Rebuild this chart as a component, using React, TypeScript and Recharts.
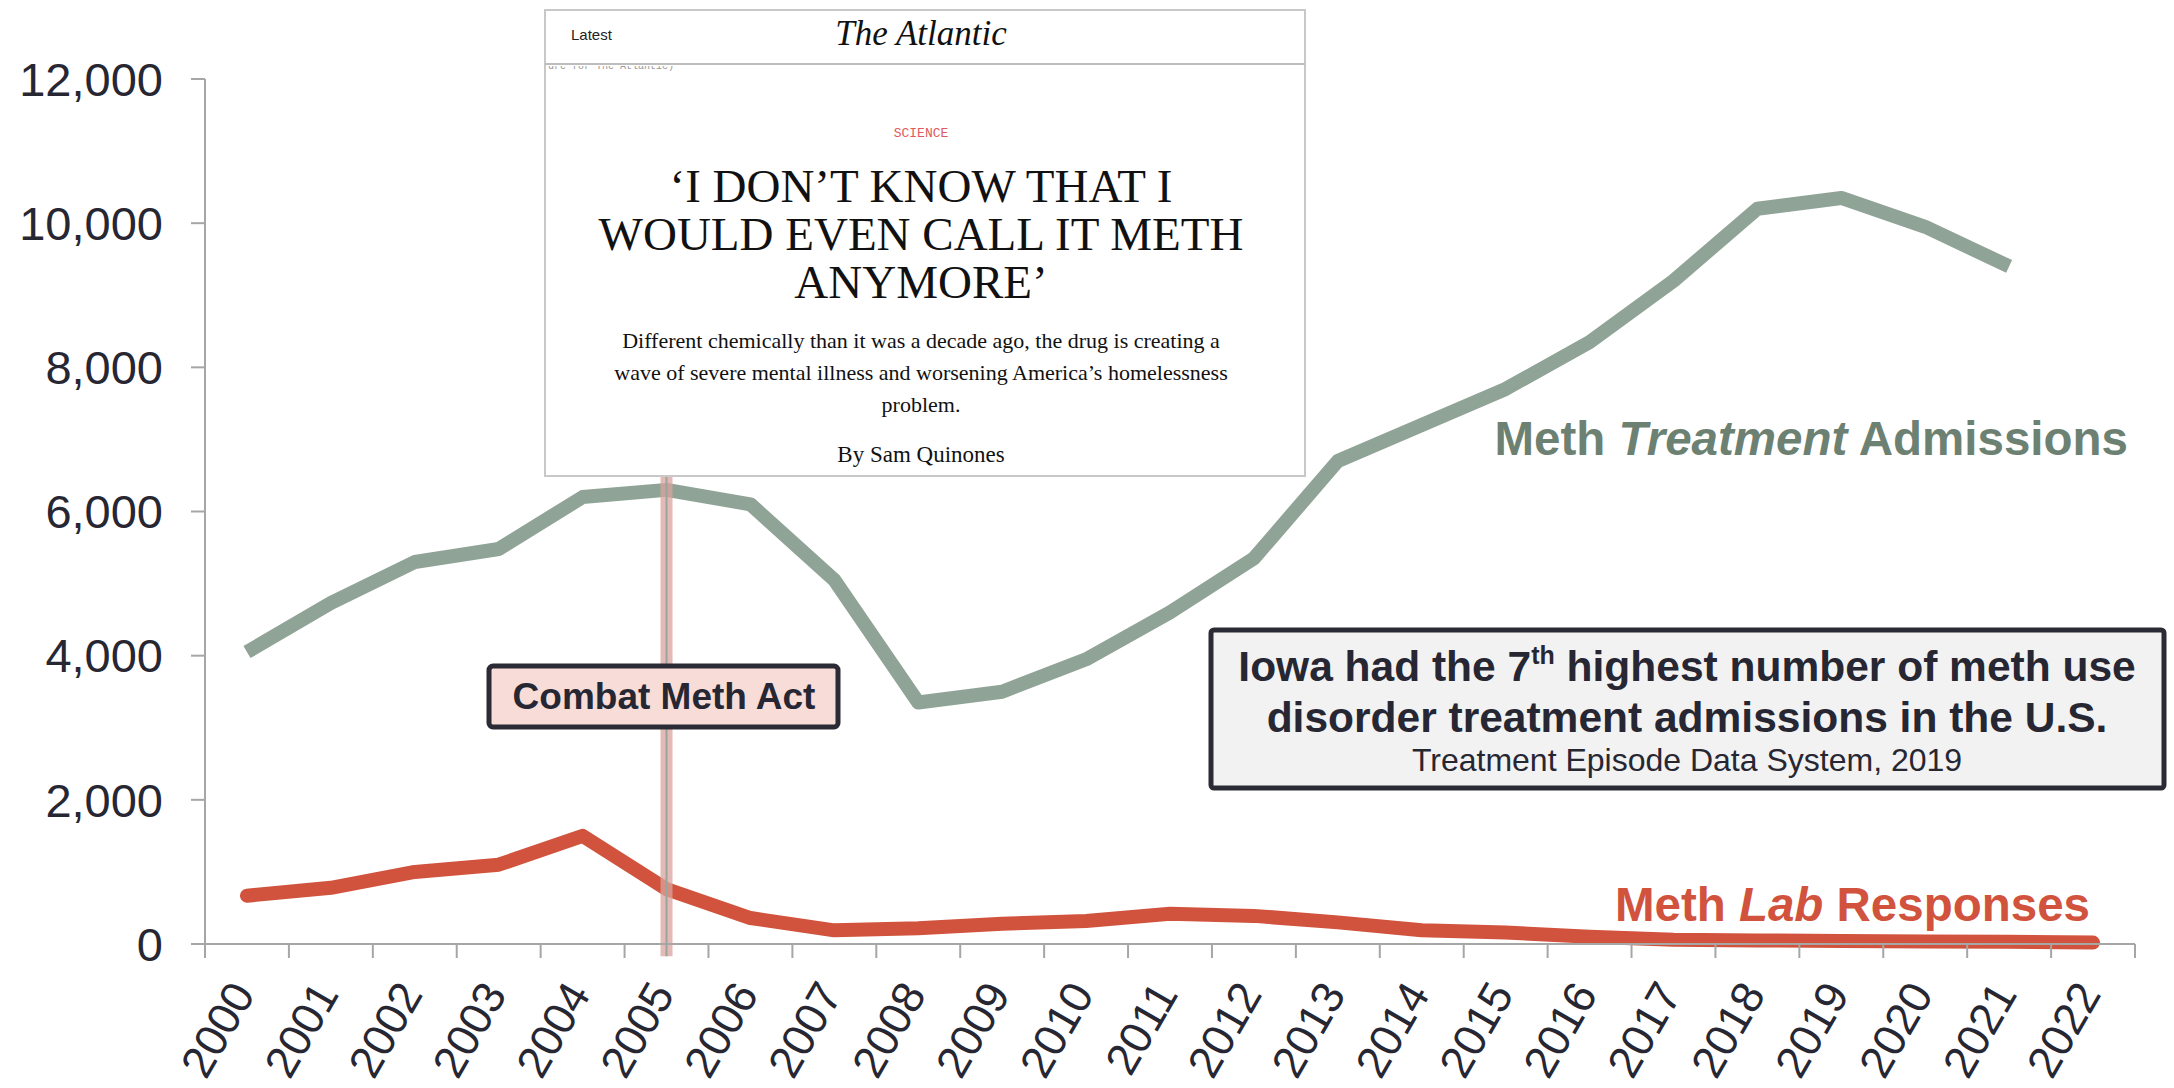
import { LineChart, Line, XAxis, YAxis, ReferenceLine } from 'recharts'

const years = [
  '2000', '2001', '2002', '2003', '2004', '2005', '2006', '2007', '2008', '2009', '2010', '2011',
  '2012', '2013', '2014', '2015', '2016', '2017', '2018', '2019', '2020', '2021', '2022',
]
const treatmentAdmissions = [
  4050, 4730, 5300, 5480, 6200, 6300, 6100, 5050, 3350, 3500, 3950, 4600,
  5350, 6700, 7200, 7700, 8350, 9200, 10200, 10350, 9950, 9400, null,
]
const labResponses = [
  670, 780, 1000, 1100, 1500, 760, 360, 190, 220, 280, 320, 420,
  390, 300, 190, 160, 100, 60, 50, 40, 35, 30, 20,
]
const yTicks = [0, 2000, 4000, 6000, 8000, 10000, 12000]
const actYear = '2005'

const data = years.map((year, i) => ({
  year,
  treatment: treatmentAdmissions[i],
  lab: labResponses[i],
}))

const W = 2174
const H = 1088
const LEFT = 205
const RIGHT = 2135
const BAND = (RIGHT - LEFT) / years.length
const axisGray = '#a6a6a6'
const ink = '#272733'
const green = '#90a397'
const greenText = '#6d8173'
const red = '#d1533d'
const sans = 'Arial, "Liberation Sans", sans-serif'
const serif = '"Liberation Serif", "Times New Roman", serif'

// year label sits at the band centre, tick marks fall on the band edges
const YearTick = (props: any) => {
  const cx = Number(props.x)
  const cy = Number(props.y)
  const last = props.index === years.length - 1
  const ax = cx + 9
  const ay = cy + 50
  return (
    <g>
      <line x1={cx - BAND / 2} y1={cy} x2={cx - BAND / 2} y2={cy + 14} stroke={axisGray} strokeWidth={2} />
      {last && <line x1={cx + BAND / 2} y1={cy} x2={cx + BAND / 2} y2={cy + 14} stroke={axisGray} strokeWidth={2} />}
      <text
        x={ax}
        y={ay}
        transform={`rotate(-60 ${ax} ${ay})`}
        textAnchor="end"
        fontFamily={sans}
        fontSize={45}
        fill={ink}
      >
        {props.payload.value}
      </text>
    </g>
  )
}

function Overlay() {
  return (
    <svg width={W} height={H} style={{ position: 'absolute', left: 0, top: 0, pointerEvents: 'none' }}>
      <defs>
        <clipPath id="cutTop">
          <rect x={545} y={66} width={200} height={10} />
        </clipPath>
      </defs>
      {/* article screenshot */}
      <rect x={545} y={10} width={760} height={466} fill="#fff" stroke="#c8c8c8" strokeWidth={2} />
      <line x1={545} y1={64} x2={1305} y2={64} stroke="#bdbdbd" strokeWidth={2} />
      <text x={571} y={40} fontFamily={sans} fontSize={15} fill="#222">Latest</text>
      <text x={921} y={45} textAnchor="middle" fontFamily={serif} fontStyle="italic" fontSize={35} fill="#111">
        The Atlantic
      </text>
      <text x={548} y={69} fontFamily='"Liberation Mono", monospace' fontSize={10} fill="#999" clipPath="url(#cutTop)">
        ure for The Atlantic)
      </text>
      <text x={921} y={137} textAnchor="middle" fontFamily='"Liberation Mono", monospace' fontSize={13} fill="#e0595c">
        SCIENCE
      </text>
      <g fontFamily={serif} fontSize={47} fill="#111" textAnchor="middle">
        <text x={921} y={202}>‘I DON’T KNOW THAT I</text>
        <text x={921} y={250}>WOULD EVEN CALL IT METH</text>
        <text x={921} y={298}>ANYMORE’</text>
      </g>
      <g fontFamily={serif} fontSize={22} fill="#111" textAnchor="middle">
        <text x={921} y={348}>Different chemically than it was a decade ago, the drug is creating a</text>
        <text x={921} y={380}>wave of severe mental illness and worsening America’s homelessness</text>
        <text x={921} y={412}>problem.</text>
        <text x={921} y={462} fontSize={23}>By Sam Quinones</text>
      </g>

      {/* Combat Meth Act label */}
      <rect x={489} y={666} width={349} height={61} rx={4} fill="#f8dcd7" stroke="#2b2b35" strokeWidth={5} />
      <text x={664} y={709} textAnchor="middle" fontFamily={sans} fontWeight="bold" fontSize={37} fill={ink}>
        Combat Meth Act
      </text>

      {/* Iowa callout */}
      <rect x={1211} y={630} width={953} height={158} rx={3} fill="#f2f2f2" stroke="#2b2b35" strokeWidth={5} />
      <text x={1687} y={681} textAnchor="middle" fontFamily={sans} fontWeight="bold" fontSize={42.5} fill={ink}>
        Iowa had the 7<tspan fontSize={25} dy={-17}>th</tspan>
        <tspan dy={17}> highest number of meth use</tspan>
      </text>
      <text x={1687} y={732} textAnchor="middle" fontFamily={sans} fontWeight="bold" fontSize={42.5} fill={ink}>
        disorder treatment admissions in the U.S.
      </text>
      <text x={1687} y={771} textAnchor="middle" fontFamily={sans} fontSize={32} fill={ink}>
        Treatment Episode Data System, 2019
      </text>

      {/* series labels */}
      <text x={2128} y={455} textAnchor="end" fontFamily={sans} fontWeight="bold" fontSize={47.5} fill={greenText}>
        Meth <tspan fontStyle="italic">Treatment</tspan> Admissions
      </text>
      <text x={2090} y={921} textAnchor="end" fontFamily={sans} fontWeight="bold" fontSize={47.5} fill={red}>
        Meth <tspan fontStyle="italic">Lab</tspan> Responses
      </text>
    </svg>
  )
}

export default function App() {
  return (
    <div style={{ position: 'absolute', left: 0, top: 0, width: W, height: H, background: '#fff' }}>
      <LineChart width={W} height={H} data={data} margin={{ top: 79, right: W - RIGHT, bottom: 0, left: 0 }}>
        <XAxis
          dataKey="year"
          scale="band"
          height={H - 944}
          axisLine={{ stroke: axisGray, strokeWidth: 2 }}
          tickLine={false}
          tickSize={0}
          tickMargin={0}
          interval={0}
          tick={<YearTick />}
        />
        <YAxis
          domain={[0, 12000]}
          ticks={yTicks}
          width={LEFT}
          axisLine={{ stroke: axisGray, strokeWidth: 2 }}
          tickLine={{ stroke: axisGray, strokeWidth: 2 }}
          tickSize={14}
          tickMargin={28}
          tickFormatter={(v: number) => v.toLocaleString('en-US')}
          tick={{ fill: ink, fontSize: 47, fontFamily: sans }}
        />
        <Line
          dataKey="treatment"
          stroke={green}
          strokeWidth={14}
          dot={false}
          strokeLinejoin="round"
          isAnimationActive={false}
        />
        <Line
          dataKey="lab"
          stroke={red}
          strokeWidth={14}
          dot={false}
          strokeLinejoin="round"
          strokeLinecap="round"
          isAnimationActive={false}
        />
        <ReferenceLine
          segment={[{ x: actYear, y: 6560 }, { x: actYear, y: -170 }]}
          ifOverflow="visible"
          stroke="#d9a39c"
          strokeOpacity={0.75}
          strokeWidth={12}
        />
        <ReferenceLine
          segment={[{ x: actYear, y: 6560 }, { x: actYear, y: -170 }]}
          ifOverflow="visible"
          stroke="#98a69c"
          strokeWidth={2}
        />
      </LineChart>
      <Overlay />
    </div>
  )
}
